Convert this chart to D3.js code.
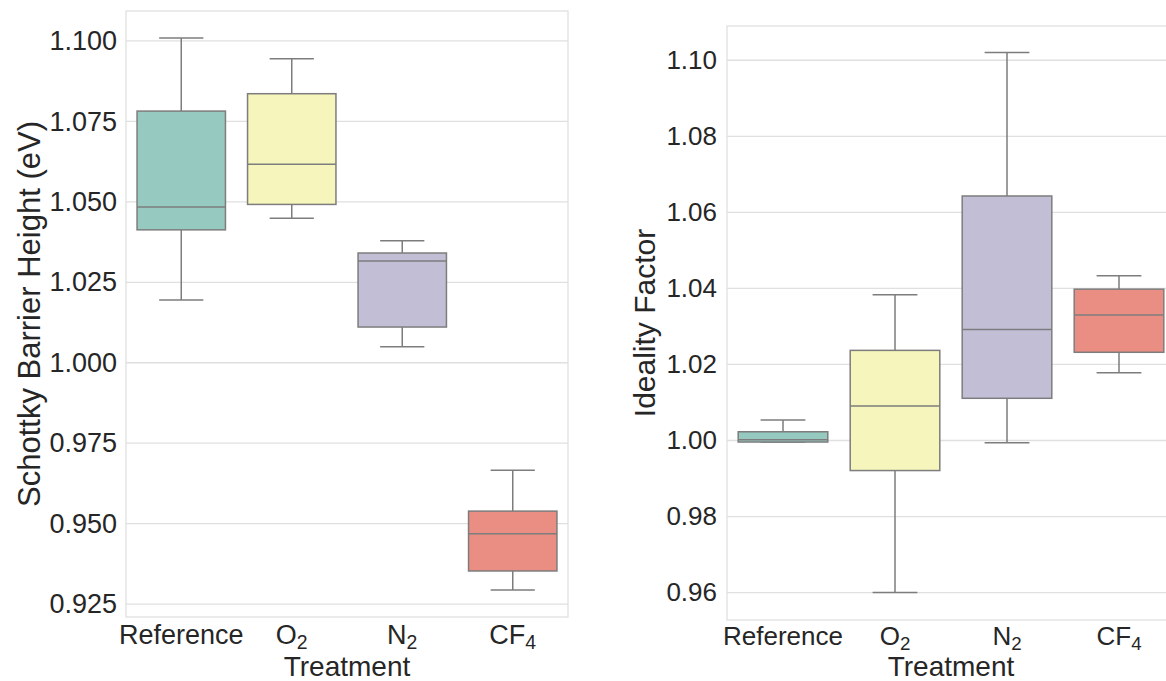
<!DOCTYPE html>
<html>
<head>
<meta charset="utf-8">
<script src="https://cdn.jsdelivr.net/npm/d3@7"></script>
<style>
  body { margin: 0; background: #fff; }
  svg { display: block; font-family: "Liberation Sans", Arial, sans-serif; }
</style>
</head>
<body>
<div id="chart"></div>
<script>
const categories = ["Reference", "O2", "N2", "CF4"];
const colors = ["#96cac1", "#f6f6bc", "#c1bed6", "#ea8e83"];

// Schottky barrier height (eV)
const sbhLow = [1.0195, 1.0449, 1.0050, 0.9294];
const sbhQ1 = [1.0413, 1.0492, 1.0111, 0.9353];
const sbhMedian = [1.0484, 1.0617, 1.0316, 0.9469];
const sbhQ3 = [1.0782, 1.0836, 1.0341, 0.9539];
const sbhHigh = [1.1009, 1.0945, 1.0379, 0.9666];
const sbhTicks = [0.925, 0.950, 0.975, 1.000, 1.025, 1.050, 1.075, 1.100];

// ideality factor
const nLow = [0.9996, 0.9600, 0.9994, 1.0178];
const nQ1 = [0.9996, 0.9921, 1.0111, 1.0232];
const nMedian = [1.0002, 1.0091, 1.0292, 1.0330];
const nQ3 = [1.0023, 1.0237, 1.0643, 1.0398];
const nHigh = [1.0054, 1.0383, 1.1020, 1.0433];
const nTicks = [0.96, 0.98, 1.00, 1.02, 1.04, 1.06, 1.08, 1.10];

const lineColor = "#7d7d7d";
const gridColor = "#e0e0e0";
const textColor = "#262626";

const svg = d3.select("#chart").append("svg")
  .attr("width", 1166)
  .attr("height", 681);

function labelParts(name) {
  // chemical formulas get a subscript digit
  const m = name.match(/^([A-Za-z]+?)(\d)$/);
  return m ? [m[1], m[2]] : [name, null];
}

function drawPanel(opt) {
  const { left, right, top, bottom } = opt;
  const g = svg.append("g");

  const x = d3.scaleBand().domain(categories).range([left, right]).padding(0);
  const y = d3.scaleLinear().domain(opt.domain).range([bottom, top]);

  // grid
  g.selectAll(".grid")
    .data(opt.ticks)
    .enter()
    .append("line")
    .attr("x1", left)
    .attr("x2", right)
    .attr("y1", d => y(d))
    .attr("y2", d => y(d))
    .style("stroke", gridColor)
    .style("stroke-width", 1.3);

  const bw = x.bandwidth() * 0.8;
  const boxes = categories.map((c, i) => ({
    c, i,
    lo: opt.low[i], q1: opt.q1[i], med: opt.median[i], q3: opt.q3[i], hi: opt.high[i]
  }));

  const box = g.selectAll(".box")
    .data(boxes)
    .enter()
    .append("g")
    .attr("class", "box");

  const cx = d => x(d.c) + x.bandwidth() / 2;

  // whiskers
  box.append("line")
    .attr("x1", cx).attr("x2", cx)
    .attr("y1", d => y(d.q3)).attr("y2", d => y(d.hi));
  box.append("line")
    .attr("x1", cx).attr("x2", cx)
    .attr("y1", d => y(d.q1)).attr("y2", d => y(d.lo));
  // caps
  box.append("line")
    .attr("x1", d => cx(d) - bw / 4).attr("x2", d => cx(d) + bw / 4)
    .attr("y1", d => y(d.hi)).attr("y2", d => y(d.hi));
  box.append("line")
    .attr("x1", d => cx(d) - bw / 4).attr("x2", d => cx(d) + bw / 4)
    .attr("y1", d => y(d.lo)).attr("y2", d => y(d.lo));

  box.append("rect")
    .attr("x", d => cx(d) - bw / 2)
    .attr("width", bw)
    .attr("y", d => y(d.q3))
    .attr("height", d => y(d.q1) - y(d.q3))
    .style("fill", d => colors[d.i]);

  box.append("line")
    .attr("x1", d => cx(d) - bw / 2).attr("x2", d => cx(d) + bw / 2)
    .attr("y1", d => y(d.med)).attr("y2", d => y(d.med));

  box.selectAll("line, rect")
    .style("stroke", lineColor)
    .style("stroke-width", 1.5);

  // spines
  g.append("rect")
    .attr("x", left).attr("y", top)
    .attr("width", right - left).attr("height", bottom - top)
    .style("fill", "none")
    .style("stroke", gridColor)
    .style("stroke-width", 1.3);

  // y axis
  const yAxis = g.append("g")
    .attr("transform", `translate(${left},0)`)
    .call(d3.axisLeft(y).tickValues(opt.ticks).tickSize(0).tickPadding(opt.yPad).tickFormat(d3.format(opt.fmt)));
  yAxis.select(".domain").remove();
  yAxis.selectAll("text")
    .attr("font-size", opt.tickSize)
    .attr("font-family", "Liberation Sans, Arial, sans-serif")
    .style("fill", textColor);

  // x axis
  const xAxis = g.append("g")
    .attr("transform", `translate(0,${bottom})`)
    .call(d3.axisBottom(x).tickSize(0));
  xAxis.select(".domain").remove();
  xAxis.selectAll("text")
    .attr("font-size", opt.tickSize)
    .attr("font-family", "Liberation Sans, Arial, sans-serif")
    .attr("y", opt.xBase)
    .attr("dy", 0)
    .style("fill", textColor)
    .each(function (d) {
      const [main, sub] = labelParts(d);
      const t = d3.select(this).text(null);
      t.append("tspan").text(main);
      if (sub) {
        t.append("tspan")
          .attr("font-size", "0.72em")
          .attr("dy", 5)
          .text(sub);
      }
    });

  // axis labels
  svg.append("text")
    .attr("transform", `translate(${opt.yLabelX},${(top + bottom) / 2}) rotate(-90)`)
    .attr("text-anchor", "middle")
    .attr("font-size", opt.yLabelSize)
    .style("fill", textColor)
    .text(opt.yLabel);

  svg.append("text")
    .attr("x", (left + right) / 2)
    .attr("y", 676)
    .attr("text-anchor", "middle")
    .attr("font-size", 28)
    .style("fill", textColor)
    .text("Treatment");
}

drawPanel({
  left: 126, right: 568, top: 11, bottom: 617,
  domain: [0.921, 1.1093],
  ticks: sbhTicks, fmt: ".3f",
  low: sbhLow, q1: sbhQ1, median: sbhMedian, q3: sbhQ3, high: sbhHigh,
  tickSize: 27, yPad: 9, xBase: 27,
  yLabel: "Schottky Barrier Height (eV)", yLabelX: 40, yLabelSize: 31
});

drawPanel({
  left: 727, right: 1175, top: 26, bottom: 620,
  domain: [0.9528, 1.109],
  ticks: nTicks, fmt: ".2f",
  low: nLow, q1: nQ1, median: nMedian, q3: nQ3, high: nHigh,
  tickSize: 26, yPad: 10, xBase: 25,
  yLabel: "Ideality Factor", yLabelX: 655, yLabelSize: 30
});
</script>
</body>
</html>
